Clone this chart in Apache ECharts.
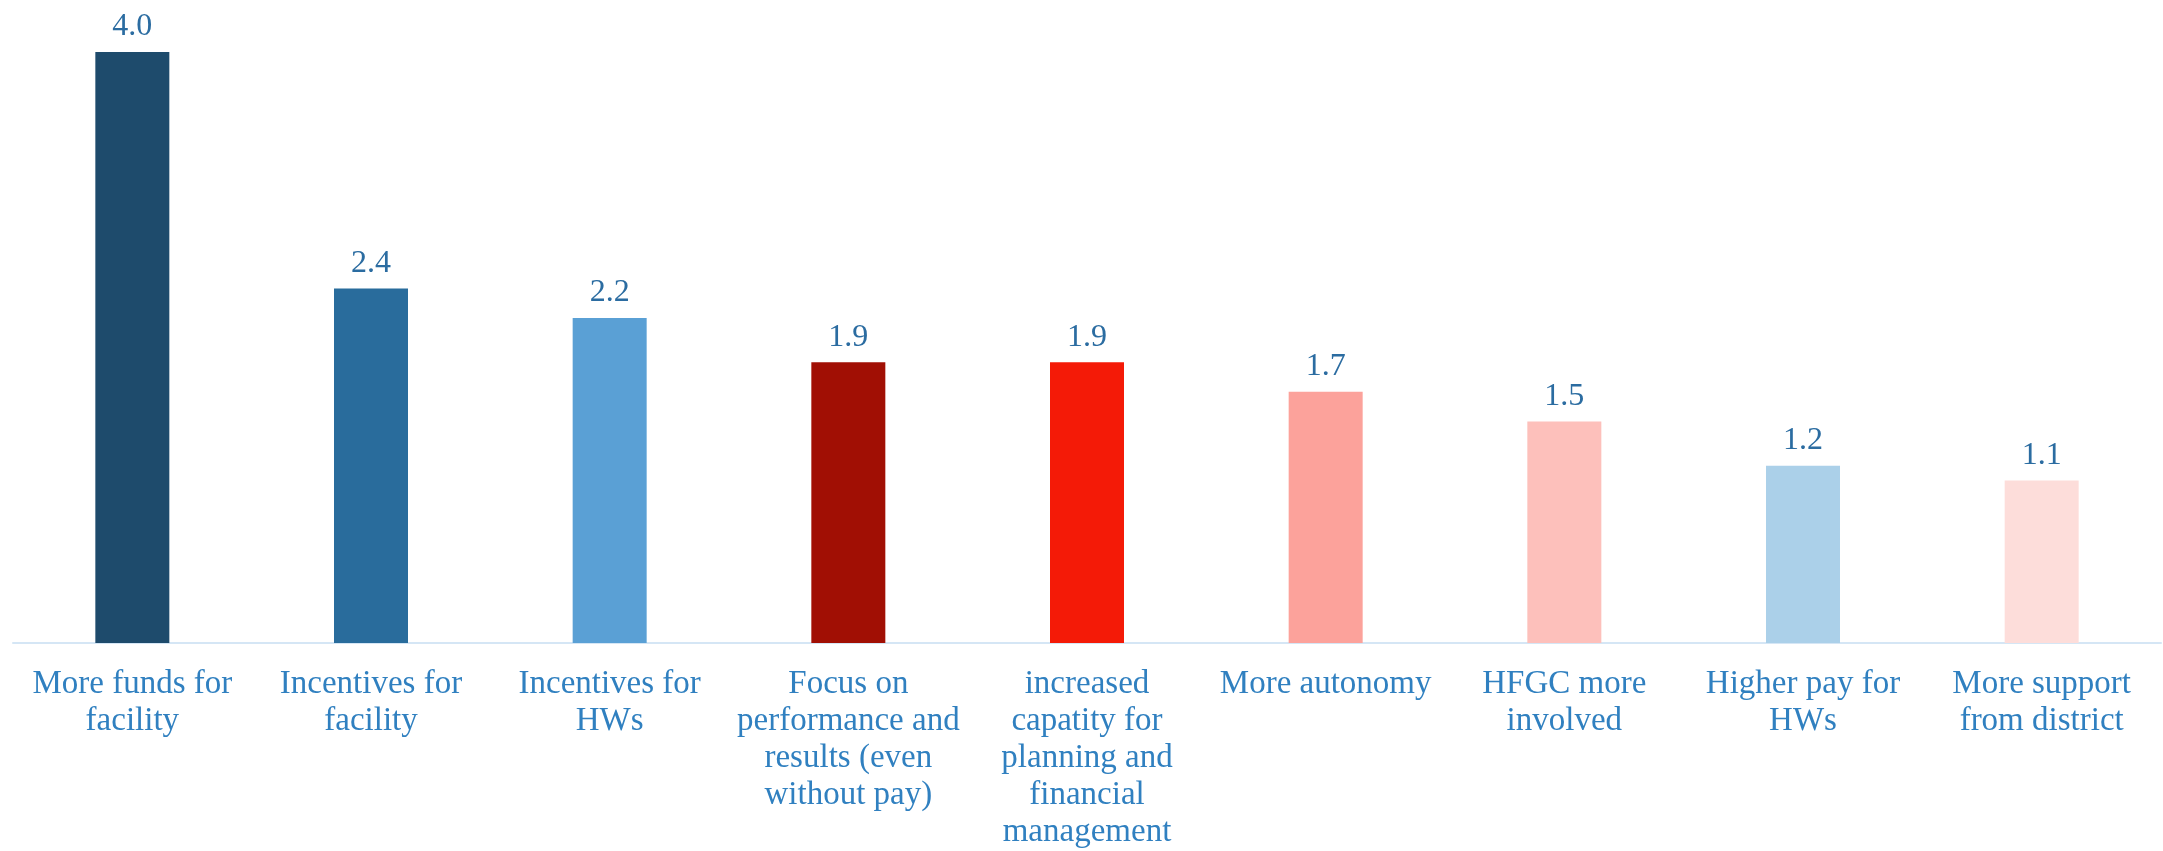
<!DOCTYPE html>
<html>
<head>
<meta charset="utf-8">
<script src="https://cdn.jsdelivr.net/npm/echarts@6/dist/echarts.min.js"></script>
<style>
  html, body { margin: 0; padding: 0; background: #ffffff; }
  #chart { width: 2163px; height: 851px; }
</style>
</head>
<body>
<div id="chart"></div>
<script>
// Categories (line breaks as they wrap under each bar)
const categories = [
  'More funds for\nfacility',
  'Incentives for\nfacility',
  'Incentives for\nHWs',
  'Focus on\nperformance and\nresults (even\nwithout pay)',
  'increased\ncapatity for\nplanning and\nfinancial\nmanagement',
  'More autonomy',
  'HFGC more\ninvolved',
  'Higher pay for\nHWs',
  'More support\nfrom district'
];

// Mean score per factor
const values = [4.0, 2.4, 2.2, 1.9, 1.9, 1.7, 1.5, 1.2, 1.1];

// One fill per bar
const barColors = [
  '#1e4b6c', '#296c9c', '#5aa0d5', '#a10f04', '#f41a07',
  '#fca29b', '#fdc0bb', '#abd0e9', '#fdddda'
];

const chart = echarts.init(document.getElementById('chart'), null, { renderer: 'canvas' });

chart.setOption({
  backgroundColor: '#ffffff',
  animation: false,
  grid: { left: 13, right: 2, top: 52, bottom: 207, containLabel: false },
  xAxis: {
    type: 'category',
    data: categories,
    axisLine: { show: true, lineStyle: { color: '#d5e6f5', width: 2 } },
    axisTick: { show: false },
    axisLabel: {
      interval: 0,
      margin: 23,
      color: '#3080c0',
      fontFamily: 'Liberation Serif',
      fontSize: 33,
      lineHeight: 37,
      align: 'center',
      verticalAlign: 'top'
    }
  },
  yAxis: {
    type: 'value',
    min: 0,
    max: 4,
    show: false,
    splitLine: { show: false }
  },
  series: [{
    type: 'bar',
    barWidth: 74,
    data: values.map((v, i) => ({ value: v, itemStyle: { color: barColors[i] } })),
    label: {
      show: true,
      position: 'top',
      distance: 9,
      color: '#2b6ca1',
      fontFamily: 'Liberation Serif',
      fontSize: 32,
      formatter: p => p.value.toFixed(1)
    }
  }]
});
</script>
</body>
</html>
